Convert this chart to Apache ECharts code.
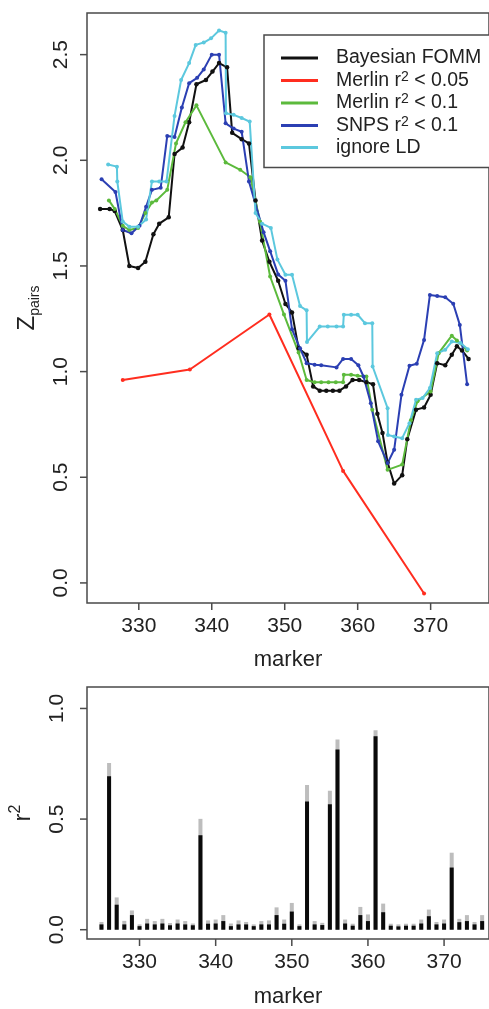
<!DOCTYPE html>
<html><head><meta charset="utf-8">
<script src="https://cdn.jsdelivr.net/npm/echarts@6/dist/echarts.min.js"></script>
<style>html,body{margin:0;padding:0;background:#fff}#c{width:489px;height:1009px}</style>
</head><body><div id="c"></div>
<script>
// ---- Top panel: Z_pairs by marker ----
const bayesX = [324.7,326.0,326.7,327.8,328.7,329.9,330.9,332.0,332.8,334.1,334.9,336.0,336.9,337.9,339.2,340.1,341.0,342.1,342.8,344.1,345.1,346.0,346.9,347.9,349.1,350.1,351.0,351.9,353.0,353.9,354.8,355.7,356.6,357.5,358.4,359.3,360.2,361.2,362.1,362.7,363.4,364.1,365.0,366.1,366.8,368.0,369.1,370.0,370.9,372.0,372.9,373.6,374.3,375.2];
const bayesY = [1.77,1.77,1.76,1.67,1.50,1.49,1.52,1.65,1.70,1.73,2.03,2.06,2.18,2.36,2.38,2.42,2.46,2.44,2.13,2.10,2.08,1.81,1.62,1.52,1.43,1.32,1.28,1.11,1.08,0.93,0.91,0.91,0.91,0.91,0.93,0.96,0.96,0.95,0.94,0.80,0.71,0.57,0.47,0.51,0.68,0.82,0.83,0.89,1.04,1.03,1.08,1.12,1.10,1.06];

const merlin05X = [327.8,337.0,347.9,358.0,369.1];
const merlin05Y = [0.96,1.01,1.27,0.53,-0.05];

const merlin1X = [325.9,326.7,327.8,328.7,329.9,330.9,331.8,332.4,333.9,335.1,336.4,337.9,341.9,343.9,345.3,346.6,348.0,349.9,351.9,353.0,354.1,355.0,356.0,357.0,358.0,358.1,359.1,360.0,361.2,362.0,364.1,366.1,367.3,368.2,370.0,371.1,372.9,373.6,375.0];
const merlin1Y = [1.81,1.77,1.69,1.67,1.68,1.75,1.80,1.81,1.86,2.08,2.18,2.26,1.99,1.955,1.92,1.71,1.45,1.27,1.09,0.96,0.95,0.95,0.95,0.95,0.95,0.985,0.985,0.98,0.977,0.82,0.535,0.56,0.77,0.86,0.906,1.087,1.17,1.147,1.10];

const snpsX = [324.9,326.8,327.8,329.0,330.1,331.0,331.8,333.0,333.9,334.9,335.9,336.9,338.0,338.9,340.0,341.0,341.9,343.0,344.1,345.1,347.1,348.0,349.1,350.1,351.0,352.1,353.0,354.1,355.0,357.1,358.0,359.1,360.1,360.8,361.8,362.8,364.1,365.0,366.0,367.1,368.1,369.1,369.9,370.9,372.0,373.1,374.0,375.0];
const snpsY = [1.91,1.85,1.67,1.655,1.69,1.78,1.86,1.87,2.115,2.11,2.25,2.365,2.39,2.43,2.50,2.50,2.175,2.15,2.135,1.90,1.66,1.57,1.46,1.43,1.20,1.11,1.04,1.033,1.03,1.02,1.06,1.06,1.03,0.977,0.85,0.67,0.567,0.63,0.89,1.028,1.037,1.15,1.363,1.358,1.352,1.321,1.221,0.94];

const ignoreX = [325.8,327.0,327.05,327.8,328.7,329.9,331.0,331.8,332.8,333.8,334.9,335.8,336.9,337.8,338.9,339.9,341.0,341.9,341.95,343.0,344.1,345.2,346.0,346.9,348.1,349.0,350.1,351.0,352.1,353.0,353.05,354.8,355.9,357.1,358.0,358.1,359.1,360.0,361.0,362.0,362.05,364.1,364.15,365.0,366.1,367.1,368.0,368.9,369.9,370.9,372.0,372.9,374.1,375.1];
const ignoreY = [1.98,1.97,1.90,1.71,1.686,1.686,1.72,1.90,1.90,1.90,2.21,2.38,2.46,2.546,2.557,2.577,2.614,2.604,2.223,2.215,2.20,2.183,1.75,1.70,1.68,1.53,1.458,1.458,1.31,1.29,1.14,1.213,1.213,1.213,1.213,1.269,1.269,1.269,1.229,1.229,1.024,0.827,0.70,0.693,0.685,0.756,0.867,0.875,0.922,1.087,1.103,1.142,1.135,1.106];

const zTicks = [0, 0.5, 1.0, 1.5, 2.0, 2.5];
const markerTicks = [330, 340, 350, 360, 370];

// ---- Bottom panel: r^2 by marker ----
const markers = [325,326,327,328,329,330,331,332,333,334,335,336,337,338,339,340,341,342,343,344,345,346,347,348,349,350,351,352,353,354,355,356,357,358,359,360,361,362,363,364,365,366,367,368,369,370,371,372,373,374,375];
const r2 = [0.024,0.694,0.113,0.024,0.066,0.016,0.028,0.024,0.028,0.020,0.028,0.024,0.020,0.427,0.027,0.028,0.039,0.016,0.024,0.024,0.016,0.024,0.024,0.066,0.027,0.082,0.016,0.579,0.024,0.021,0.567,0.815,0.028,0.018,0.066,0.039,0.874,0.079,0.018,0.015,0.018,0.018,0.028,0.061,0.024,0.028,0.281,0.034,0.039,0.024,0.039];
const r2Upper = [0.035,0.754,0.146,0.040,0.087,0.024,0.049,0.039,0.049,0.030,0.046,0.039,0.028,0.501,0.042,0.046,0.066,0.028,0.042,0.035,0.024,0.039,0.042,0.101,0.046,0.121,0.024,0.654,0.039,0.031,0.628,0.860,0.046,0.027,0.103,0.069,0.901,0.118,0.027,0.024,0.027,0.027,0.046,0.091,0.035,0.046,0.348,0.049,0.066,0.035,0.066];
const r2Ticks = [0, 0.5, 1.0];

const zip = (xs, ys) => xs.map((x, i) => [x, ys[i]]);

const FONT = 'Liberation Sans, Arial, Helvetica, sans-serif';
const AX = '#4a4a4a';
const TXT = '#222';
const TICK_LEN = 7;

// axis ranges (R-style padded box)
const topRange = {xMin: 322.9, xMax: 378.0, yMin: -0.095, yMax: 2.697};
const botRange = {xMin: 323.1, xMax: 375.9, yMin: -0.042, yMax: 1.097};

function valueX(grid, r, gap) {
  return {
    type: 'value', gridIndex: grid, min: r.xMin, max: r.xMax,
    axisLine: {show: false, onZero: false},
    axisTick: {show: false},
    axisLabel: {customValues: markerTicks, fontSize: 21, color: TXT, fontFamily: FONT, margin: 13, lineHeight: 21},
    splitLine: {show: false},
    name: 'marker', nameLocation: 'middle', nameGap: gap,
    nameTextStyle: {fontSize: 22, color: TXT, fontFamily: FONT}
  };
}
function valueY(grid, r, ticks, name, rich, gap, margin) {
  return {
    type: 'value', gridIndex: grid, min: r.yMin, max: r.yMax,
    axisLine: {show: false, onZero: false},
    axisTick: {show: false},
    axisLabel: {customValues: ticks, rotate: 90, fontSize: 21, color: TXT, fontFamily: FONT, margin: margin, lineHeight: 21,
      formatter: v => Number(v).toFixed(1)},
    splitLine: {show: false},
    name: name, nameLocation: 'middle', nameRotate: 90, nameGap: gap,
    nameTextStyle: {fontFamily: FONT, color: TXT, rich: rich}
  };
}

const legendNames = {
  'Bayesian FOMM': '{t|Bayesian FOMM}',
  'Merlin r2 < 0.05': '{t|Merlin r}{s|2}{t| < 0.05}',
  'Merlin r2 < 0.1': '{t|Merlin r}{s|2}{t| < 0.1}',
  'SNPS r2 < 0.1': '{t|SNPS r}{s|2}{t| < 0.1}',
  'ignore LD': '{t|ignore LD}'
};

function lineSeries(name, xs, ys, color, size) {
  return {
    name: name, type: 'line', xAxisIndex: 0, yAxisIndex: 0,
    data: zip(xs, ys), symbol: 'circle', symbolSize: size, showSymbol: true,
    lineStyle: {color: color, width: 2}, itemStyle: {color: color},
    emphasis: {disabled: true}
  };
}

const chart = echarts.init(document.getElementById('c'), null, {renderer: 'canvas'});
chart.setOption({
  animation: false,
  backgroundColor: '#fff',
  grid: [
    {left: 87, top: 13, right: -3, height: 590, show: true, borderColor: AX, borderWidth: 1.5, backgroundColor: 'transparent'},
    {left: 87, top: 687, right: -3, height: 255, show: true, borderColor: AX, borderWidth: 1.5, backgroundColor: 'transparent'}
  ],
  xAxis: [valueX(0, topRange, 46), valueX(1, botRange, 47)],
  yAxis: [
    valueY(0, topRange, zTicks, '{z|Z}{s|pairs}',
      {z: {fontSize: 24, lineHeight: 30, verticalAlign: 'middle', fontFamily: FONT, color: TXT},
       s: {fontSize: 14, lineHeight: 30, verticalAlign: 'bottom', fontFamily: FONT, color: TXT}}, 45, 15),
    valueY(1, botRange, r2Ticks, '{r|r}{s|2}',
      {r: {fontSize: 24, lineHeight: 30, verticalAlign: 'middle', fontFamily: FONT, color: TXT},
       s: {fontSize: 16, lineHeight: 30, verticalAlign: 'top', fontFamily: FONT, color: TXT}}, 49, 19)
  ],
  legend: {
    orient: 'vertical', left: 264, top: 35,
    padding: [13, 40, 10, 17],
    borderColor: AX, borderWidth: 1.5, backgroundColor: '#fff',
    icon: 'rect', itemWidth: 37, itemHeight: 3, itemGap: 2,
    selectedMode: false,
    formatter: n => legendNames[n],
    textStyle: {fontFamily: FONT, color: TXT, padding: [0, 0, 0, 13],
      rich: {t: {fontSize: 19.5, lineHeight: 21, fontFamily: FONT, color: TXT},
             s: {fontSize: 14, lineHeight: 21, verticalAlign: 'top', fontFamily: FONT, color: TXT}}},
    data: ['Bayesian FOMM', 'Merlin r2 < 0.05', 'Merlin r2 < 0.1', 'SNPS r2 < 0.1', 'ignore LD']
  },
  series: [
    lineSeries('Bayesian FOMM', bayesX, bayesY, '#111111', 4.5),
    lineSeries('Merlin r2 < 0.05', merlin05X, merlin05Y, '#ff2d1f', 4),
    lineSeries('Merlin r2 < 0.1', merlin1X, merlin1Y, '#5cba3c', 4),
    lineSeries('SNPS r2 < 0.1', snpsX, snpsY, '#2b3fb3', 4),
    lineSeries('ignore LD', ignoreX, ignoreY, '#5cc8de', 4),
    {type: 'bar', xAxisIndex: 1, yAxisIndex: 1, data: zip(markers, r2Upper), barWidth: 4, barGap: '-100%',
     itemStyle: {color: '#bdbdbd'}, emphasis: {disabled: true}},
    {type: 'bar', xAxisIndex: 1, yAxisIndex: 1, data: zip(markers, r2), barWidth: 4, barGap: '-100%',
     itemStyle: {color: '#0a0a0a'}, emphasis: {disabled: true}}
  ]
});

// Outward R-style tick marks, placed by converting tick values through the chart's own axes.
function tickGraphics(gridIndex, r, xTicks, yTicks) {
  const out = [];
  xTicks.forEach(v => {
    const p = chart.convertToPixel({gridIndex: gridIndex}, [v, r.yMin]);
    if (p) out.push({type: 'line', silent: true, z: 10,
      shape: {x1: p[0], y1: p[1], x2: p[0], y2: p[1] + TICK_LEN}, style: {stroke: AX, lineWidth: 1.5}});
  });
  yTicks.forEach(v => {
    const p = chart.convertToPixel({gridIndex: gridIndex}, [r.xMin, v]);
    if (p) out.push({type: 'line', silent: true, z: 10,
      shape: {x1: p[0], y1: p[1], x2: p[0] - TICK_LEN, y2: p[1]}, style: {stroke: AX, lineWidth: 1.5}});
  });
  return out;
}
try {
  const ticks = tickGraphics(0, topRange, markerTicks, zTicks).concat(tickGraphics(1, botRange, markerTicks, r2Ticks));
  chart.setOption({graphic: {elements: ticks}});
} catch (e) { console.error(e); }
</script></body></html>
